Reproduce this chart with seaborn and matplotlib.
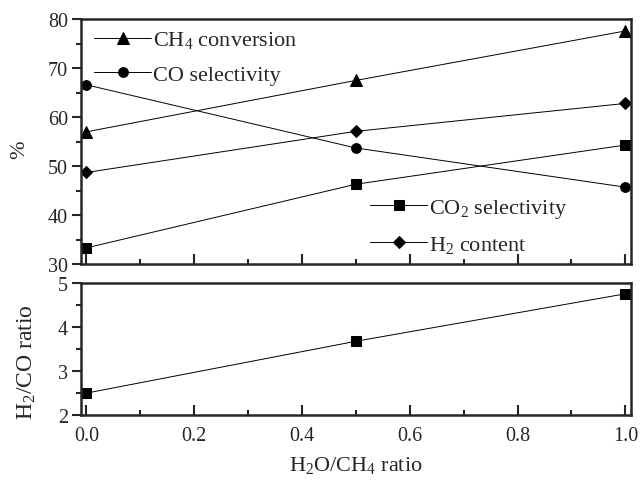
import matplotlib
matplotlib.use('Agg')
import matplotlib.pyplot as plt
import pandas as pd
import seaborn as sns
from matplotlib.ticker import MultipleLocator

# values
ratio = [0.0, 0.5, 1.0]
ch4_conversion = [57.0, 67.5, 77.6]
co_selectivity = [66.6, 53.7, 45.7]
co2_selectivity = [33.3, 46.3, 54.3]
h2_content = [48.7, 57.1, 62.8]
h2_co_ratio = [2.5, 3.68, 4.76]

labels_left = ['CH$_4$ conversion', 'CO selectivity']
labels_right = ['CO$_2$ selectivity', 'H$_2$ content']

sns.set_style('ticks')
plt.rcParams['font.family'] = ['Liberation Serif', 'DejaVu Serif']
plt.rcParams['mathtext.fontset'] = 'custom'
plt.rcParams['mathtext.rm'] = 'Liberation Serif'
plt.rcParams['mathtext.default'] = 'regular'
plt.rcParams['font.size'] = 14.5

fig = plt.figure(figsize=(6.4, 4.81), dpi=100)
ax1 = fig.add_axes([0.1266, 0.449, 0.859, 0.509])
ax2 = fig.add_axes([0.1266, 0.135, 0.859, 0.274])

top = pd.DataFrame({
    'x': ratio * 4,
    'y': ch4_conversion + co_selectivity + co2_selectivity + h2_content,
    'series': ([labels_left[0]] * 3 + [labels_left[1]] * 3
               + [labels_right[0]] * 3 + [labels_right[1]] * 3),
})
markers = {labels_left[0]: '^', labels_left[1]: 'o',
           labels_right[0]: 's', labels_right[1]: 'D'}
sizes = {'^': 8, 'o': 7, 's': 6.5, 'D': 6}

handles = {}
for name, mk in markers.items():
    sub = top[top['series'] == name]
    sns.lineplot(data=sub, x='x', y='y', ax=ax1, color='black',
                 marker=mk, markersize=sizes[mk], linewidth=0.7,
                 markeredgecolor='black', label=name, legend=False)
    handles[name] = ax1.lines[-1]

leg_kw = dict(frameon=False, handlelength=2.6, handletextpad=0.05,
              borderaxespad=0, borderpad=0, labelspacing=0.62,
              fontsize=16, loc='upper left')
leg1 = ax1.legend([handles[n] for n in labels_left], labels_left,
                  bbox_to_anchor=(0.023, 0.958), **leg_kw)
ax1.add_artist(leg1)
ax1.legend([handles[n] for n in labels_right], labels_right,
           bbox_to_anchor=(0.525, 0.273), **leg_kw)

bottom = pd.DataFrame({'x': ratio, 'y': h2_co_ratio})
sns.lineplot(data=bottom, x='x', y='y', ax=ax2, color='black', marker='s',
             markersize=6.5, linewidth=0.7, markeredgecolor='black')

for ax in (ax1, ax2):
    ax.set_xlim(-0.01, 1.01)
    ax.xaxis.set_major_locator(MultipleLocator(0.2))
    ax.xaxis.set_minor_locator(MultipleLocator(0.1))
    ax.tick_params(axis='x', which='both', direction='in', top=False,
                   width=1.5, labelsize=14.5, pad=8)
    ax.tick_params(axis='y', which='both', direction='out', right=False,
                   width=1.5, labelsize=14.5, pad=3)
    ax.tick_params(axis='x', which='major', length=7)
    ax.tick_params(axis='y', which='major', length=6.5)
    ax.tick_params(which='minor', length=3.6)
    for s in ax.spines.values():
        s.set_linewidth(1.8)
        s.set_visible(True)

ax1.set_ylim(30, 80)
ax1.yaxis.set_major_locator(MultipleLocator(10))
ax1.yaxis.set_minor_locator(MultipleLocator(5))
ax1.set_xticklabels([])
ax1.set_xlabel('')
ax1.set_ylabel('%', fontsize=16)
ax1.yaxis.set_label_coords(-0.095, 0.47)

ax2.set_ylim(2, 5)
ax2.yaxis.set_major_locator(MultipleLocator(1))
ax2.yaxis.set_minor_locator(MultipleLocator(0.5))
ax2.set_xticks([0.0, 0.2, 0.4, 0.6, 0.8, 1.0])
ax2.set_xticklabels(['0.0', '0.2', '0.4', '0.6', '0.8', '1.0'])
ax2.set_xlabel('H$_2$O/CH$_4$ ratio', fontsize=16, labelpad=6)
ax2.set_ylabel('H$_2$/CO ratio', fontsize=17)
ax2.yaxis.set_label_coords(-0.078, 0.41)

plt.savefig('out.png', dpi=100)
